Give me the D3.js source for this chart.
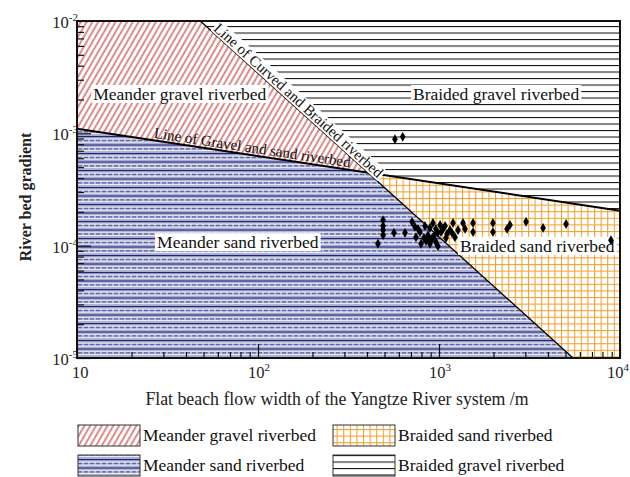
<!DOCTYPE html>
<html>
<head>
<meta charset="utf-8">
<script src="https://cdn.jsdelivr.net/npm/d3@7"></script>
<style>
body{margin:0;background:#fff}
svg{display:block;font-family:"Liberation Serif","Times New Roman",serif}
</style>
</head>
<body>
<div id="graph"></div>
<script>
"use strict"
// measured sites: [flat beach flow width (m), river bed gradient]
var sites=[[460,1.04e-4],[491,1.69e-4],[491,1.50e-4],[491,1.38e-4],[491,1.24e-4],[564,1.30e-4],[649,1.30e-4],
  [710,1.63e-4],[736,1.47e-4],[746,1.19e-4],[766,1.41e-4],[785,1.32e-4],[796,1.04e-4],[826,1.17e-4],[837,1.50e-4],
  [847,1.10e-4],[869,1.24e-4],[880,1.17e-4],[891,1.04e-4],[891,1.44e-4],[914,1.15e-4],[926,1.59e-4],[937,1.22e-4],
  [961,1.08e-4],[961,1.41e-4],[986,9.9e-5],[986,1.30e-4],[1014,1.53e-4],[1026,1.32e-4],[1052,1.41e-4],[1080,1.50e-4],
  [1093,1.17e-4],[1107,1.27e-4],[1150,1.38e-4],[1180,1.30e-4],[1195,1.59e-4],[1225,1.19e-4],[1274,1.38e-4],
  [1358,1.59e-4],[1393,1.41e-4],[1542,1.59e-4],[1542,1.32e-4],[1986,1.59e-4],[1986,1.32e-4],[2377,1.41e-4],
  [2467,1.53e-4],[3027,1.63e-4],[3758,1.44e-4],[5035,1.56e-4],[8913,1.12e-4],[571,8.85e-4],[630,9.3e-4]]
// boundary lines, end points as [width, gradient]
var gravelSandLine=[[10,1.1e-3],[1e4,2.05e-4]]
var curvedBraidedLine=[[48,1e-2],[5500,1e-5]]
var xTicks=[10,100,1000,10000]
var yTicks=[1e-5,1e-4,1e-3,1e-2]
var regionNames=['Meander gravel riverbed','Braided gravel riverbed','Meander sand riverbed','Braided sand riverbed']
var lineNames=['Line of Curved and Braided riverbed','Line of Gravel and sand riverbed']

var W=630,H=477
var x=d3.scaleLog().domain([10,1e4]).range([77,620])
var y=d3.scaleLog().domain([1e-5,1e-2]).range([358,21])

var svg=d3.select('#graph').append('svg').attr('width',W).attr('height',H)
svg.append('rect').attr('width',W).attr('height',H).attr('fill','#fff')
var defs=svg.append('defs')

// fill patterns
var p=defs.append('pattern').attr('id','redHatch').attr('patternUnits','userSpaceOnUse')
  .attr('width',5).attr('height',10).attr('patternTransform','rotate(30)')
p.append('rect').attr('width',5).attr('height',10).attr('fill','#fff')
p.append('line').attr('x1',1).attr('y1',0).attr('x2',1).attr('y2',10).attr('stroke','#c42e2e').attr('stroke-width',1.1)

p=defs.append('pattern').attr('id','blueLines').attr('patternUnits','userSpaceOnUse').attr('width',6).attr('height',8.5)
p.append('rect').attr('width',6).attr('height',8.5).attr('fill','#a9add2')
p.append('line').attr('x1',0).attr('y1',0.5).attr('x2',6).attr('y2',0.5).attr('stroke','#1a2472').attr('stroke-width',1.2)
p.append('line').attr('x1',0).attr('y1',3).attr('x2',6).attr('y2',3).attr('stroke','#fff').attr('stroke-width',1)
p.append('line').attr('x1',0).attr('y1',4.5).attr('x2',4).attr('y2',4.5).attr('stroke','#2a347e').attr('stroke-width',1)
p.append('line').attr('x1',0).attr('y1',6).attr('x2',6).attr('y2',6).attr('stroke','#fff').attr('stroke-width',1)

p=defs.append('pattern').attr('id','blackLines').attr('patternUnits','userSpaceOnUse').attr('width',6).attr('height',6.5)
p.append('rect').attr('width',6).attr('height',6.5).attr('fill','#fff')
p.append('line').attr('x1',0).attr('y1',0.5).attr('x2',6).attr('y2',0.5).attr('stroke','#111').attr('stroke-width',1.1)

p=defs.append('pattern').attr('id','orangeGrid').attr('patternUnits','userSpaceOnUse').attr('width',6.6).attr('height',6.6)
p.append('rect').attr('width',6.6).attr('height',6.6).attr('fill','#fff')
p.append('line').attr('x1',0.5).attr('y1',0).attr('x2',0.5).attr('y2',6.6).attr('stroke','#f0a030').attr('stroke-width',1.1)
p.append('line').attr('x1',0).attr('y1',0.5).attr('x2',6.6).attr('y2',0.5).attr('stroke','#f0a030').attr('stroke-width',1.1)

var fills=['url(#redHatch)','url(#blackLines)','url(#blueLines)','url(#orangeGrid)']

// crossing point of the two boundary lines (straight in log-log space)
function crossing(a,b){
  var L=function(q){return [Math.log10(q[0]),Math.log10(q[1])]}
  var a0=L(a[0]),a1=L(a[1]),b0=L(b[0]),b1=L(b[1])
  var s1=(a1[1]-a0[1])/(a1[0]-a0[0])
  var s2=(b1[1]-b0[1])/(b1[0]-b0[0])
  var lx=(b0[1]-a0[1]+s1*a0[0]-s2*b0[0])/(s1-s2)
  var ly=a0[1]+s1*(lx-a0[0])
  return [Math.pow(10,lx),Math.pow(10,ly)]
}
var c=crossing(gravelSandLine,curvedBraidedLine)
var xd=x.domain(),yd=y.domain()
var regions=[
  [[xd[0],yd[1]],curvedBraidedLine[0],c,gravelSandLine[0]],
  [curvedBraidedLine[0],[xd[1],yd[1]],gravelSandLine[1],c],
  [gravelSandLine[0],c,curvedBraidedLine[1],[xd[0],yd[0]]],
  [c,gravelSandLine[1],[xd[1],yd[0]],curvedBraidedLine[1]]
]
var line=d3.line().x(function(d){return x(d[0])}).y(function(d){return y(d[1])})

svg.selectAll('path.region').data(regions).enter().append('path').attr('class','region')
  .attr('d',function(d){return line(d)+'Z'}).attr('fill',function(d,i){return fills[i]})

svg.append('path').attr('d',line(gravelSandLine)).attr('stroke','#000').attr('stroke-width',2).attr('fill','none')
svg.append('path').attr('d',line(curvedBraidedLine)).attr('stroke','#000').attr('stroke-width',1.3).attr('fill','none')

// text with a white box behind it
function boxedText(g,str,size,px,py,rot,pad){
  var t=g.append('g').attr('transform','translate('+px+','+py+')rotate('+rot+')')
  var r=t.append('rect').attr('fill','#fff')
  var tx=t.append('text').attr('font-size',size).attr('fill','#111').text(str)
  var b=tx.node().getBBox()
  r.attr('x',b.x-pad).attr('y',b.y+1).attr('width',b.width+2*pad).attr('height',b.height-2)
  return t
}

// region labels, placed at [width, gradient]
var regionPos=[[12.3,1.98e-3],[718,1.98e-3],[27.7,9.5e-5],[1306,8.8e-5]]
regionNames.forEach(function(n,i){
  boxedText(svg,n,17.5,x(regionPos[i][0]),y(regionPos[i][1]),0,2)
})

// labels along the boundary lines
function along(l,t,off){
  var x0=x(l[0][0]),y0=y(l[0][1]),x1=x(l[1][0]),y1=y(l[1][1])
  var a=Math.atan2(y1-y0,x1-x0)
  return {x:x0+t*(x1-x0)+off*Math.sin(a),y:y0+t*(y1-y0)-off*Math.cos(a),a:a*180/Math.PI}
}
var q=along(curvedBraidedLine,0.03,2)
boxedText(svg,lineNames[0],15,q.x,q.y,q.a,1)
q=along(gravelSandLine,0.14,2.5)
svg.append('text').attr('transform','translate('+q.x+','+q.y+')rotate('+q.a+')')
  .attr('font-size',15).attr('fill','#111').text(lineNames[1])

// site points
var diamond=d3.symbol().type(d3.symbolDiamond).size(28)
svg.selectAll('path.site').data(sites).enter().append('path').attr('class','site')
  .attr('transform',function(d){return 'translate('+x(d[0])+','+y(d[1])+')'})
  .attr('d',diamond).attr('fill','#000')

// minor ticks
function minors(lo,hi){
  var r=[]
  for(var e=lo;e<hi;e++) for(var k=2;k<10;k++) r.push(k*Math.pow(10,e))
  return r
}
svg.append('g').attr('transform','translate(0,358)')
  .call(d3.axisBottom(x).tickValues(minors(1,4)).tickSize(-6).tickFormat(''))
svg.append('g').attr('transform','translate(0,358)')
  .call(d3.axisBottom(x).tickValues(xTicks).tickSize(-14).tickFormat(''))
svg.append('g').attr('transform','translate(77,0)')
  .call(d3.axisLeft(y).tickValues(minors(-5,-2)).tickSize(-7).tickFormat(''))
svg.append('g').attr('transform','translate(77,0)')
  .call(d3.axisLeft(y).tickValues(yTicks).tickSize(-14).tickFormat(''))
svg.selectAll('.domain').remove()
svg.selectAll('.tick line').attr('stroke','#111').attr('stroke-width',1.2)

// frame
svg.append('rect').attr('x',77).attr('y',21).attr('width',543).attr('height',337)
  .attr('fill','none').attr('stroke','#111').attr('stroke-width',2)

// tick labels with superscripts
function powerLabel(sel,v){
  var e=Math.round(Math.log10(v))
  sel.append('tspan').text('10')
  if(e!==1) sel.append('tspan').attr('dy',-7).attr('font-size',11).text(String(e))
}
xTicks.forEach(function(v,i){
  var last=i===xTicks.length-1
  var t=svg.append('text').attr('x',last?W-1:x(v)-(v===10?5:10)).attr('y',378)
    .attr('text-anchor',last?'end':'start').attr('font-size',16.5).attr('fill','#222')
  powerLabel(t,v)
})
yTicks.forEach(function(v){
  var t=svg.append('text').attr('x',78).attr('y',y(v)+7).attr('text-anchor','end')
    .attr('font-size',16.5).attr('fill','#222')
  powerLabel(t,v)
})

// axis titles
svg.append('text').attr('x',337).attr('y',405).attr('text-anchor','middle').attr('font-size',17.8)
  .attr('fill','#222').text('Flat beach flow width of the Yangtze River system /m')
svg.append('text').attr('transform','translate(31,197)rotate(-90)').attr('text-anchor','middle')
  .attr('font-size',16).attr('font-weight','bold').attr('fill','#222').text('River bed gradient')

// legend
var legendOrder=[0,3,2,1]
legendOrder.forEach(function(k,i){
  var lx=i%2===0?78:333, ly=i<2?425:455
  svg.append('rect').attr('x',lx).attr('y',ly).attr('width',62).attr('height',21)
    .attr('fill',fills[k]).attr('stroke','#333').attr('stroke-width',1)
  svg.append('text').attr('x',lx+65).attr('y',ly+16).attr('font-size',17.5).attr('fill','#111').text(regionNames[k])
})
</script>
</body>
</html>
